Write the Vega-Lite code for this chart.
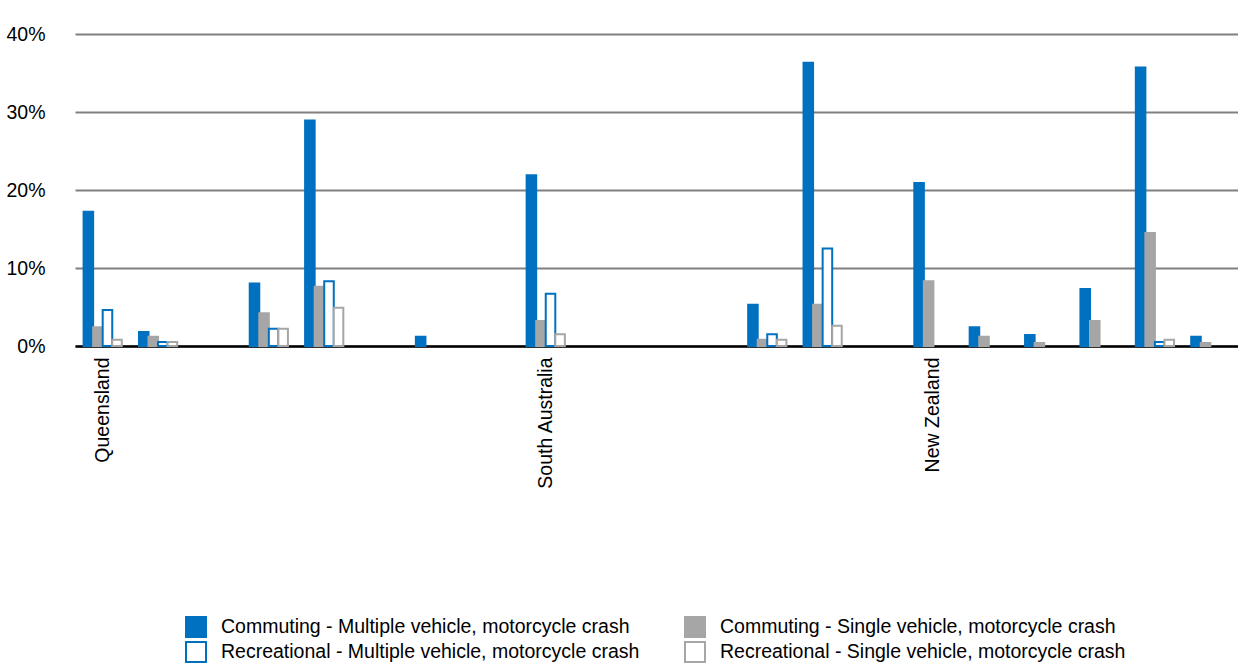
{
  "$schema": "https://vega.github.io/schema/vega-lite/v6.json",
  "autosize": "none",
  "width": 1163,
  "height": 312,
  "padding": {"left": 75, "top": 34, "right": 0, "bottom": 320},
  "background": "white",
  "config": {
    "font": "Liberation Sans",
    "view": {"stroke": null},
    "axis": {"labelFont": "Liberation Sans", "labelColor": "#000000", "labelFontSize": 19.5}
  },
  "data": {
    "values": [
      {"cat": "c01", "series": "Commuting - Multiple vehicle, motorcycle crash", "value": 0.172},
      {"cat": "c01", "series": "Commuting - Single vehicle, motorcycle crash", "value": 0.024},
      {"cat": "c01", "series": "Recreational  - Multiple vehicle, motorcycle crash", "value": 0.046},
      {"cat": "c01", "series": "Recreational - Single vehicle, motorcycle crash", "value": 0.008},
      {"cat": "c02", "series": "Commuting - Multiple vehicle, motorcycle crash", "value": 0.018},
      {"cat": "c02", "series": "Commuting - Single vehicle, motorcycle crash", "value": 0.012},
      {"cat": "c02", "series": "Recreational  - Multiple vehicle, motorcycle crash", "value": 0.005},
      {"cat": "c02", "series": "Recreational - Single vehicle, motorcycle crash", "value": 0.005},
      {"cat": "c04", "series": "Commuting - Multiple vehicle, motorcycle crash", "value": 0.080},
      {"cat": "c04", "series": "Commuting - Single vehicle, motorcycle crash", "value": 0.042},
      {"cat": "c04", "series": "Recreational  - Multiple vehicle, motorcycle crash", "value": 0.022},
      {"cat": "c04", "series": "Recreational - Single vehicle, motorcycle crash", "value": 0.022},
      {"cat": "c05", "series": "Commuting - Multiple vehicle, motorcycle crash", "value": 0.289},
      {"cat": "c05", "series": "Commuting - Single vehicle, motorcycle crash", "value": 0.076},
      {"cat": "c05", "series": "Recreational  - Multiple vehicle, motorcycle crash", "value": 0.083},
      {"cat": "c05", "series": "Recreational - Single vehicle, motorcycle crash", "value": 0.049},
      {"cat": "c07", "series": "Commuting - Multiple vehicle, motorcycle crash", "value": 0.012},
      {"cat": "c09", "series": "Commuting - Multiple vehicle, motorcycle crash", "value": 0.219},
      {"cat": "c09", "series": "Commuting - Single vehicle, motorcycle crash", "value": 0.032},
      {"cat": "c09", "series": "Recreational  - Multiple vehicle, motorcycle crash", "value": 0.067},
      {"cat": "c09", "series": "Recreational - Single vehicle, motorcycle crash", "value": 0.015},
      {"cat": "c13", "series": "Commuting - Multiple vehicle, motorcycle crash", "value": 0.053},
      {"cat": "c13", "series": "Commuting - Single vehicle, motorcycle crash", "value": 0.008},
      {"cat": "c13", "series": "Recreational  - Multiple vehicle, motorcycle crash", "value": 0.015},
      {"cat": "c13", "series": "Recreational - Single vehicle, motorcycle crash", "value": 0.008},
      {"cat": "c14", "series": "Commuting - Multiple vehicle, motorcycle crash", "value": 0.363},
      {"cat": "c14", "series": "Commuting - Single vehicle, motorcycle crash", "value": 0.053},
      {"cat": "c14", "series": "Recreational  - Multiple vehicle, motorcycle crash", "value": 0.125},
      {"cat": "c14", "series": "Recreational - Single vehicle, motorcycle crash", "value": 0.026},
      {"cat": "c16", "series": "Commuting - Multiple vehicle, motorcycle crash", "value": 0.209},
      {"cat": "c16", "series": "Commuting - Single vehicle, motorcycle crash", "value": 0.083},
      {"cat": "c17", "series": "Commuting - Multiple vehicle, motorcycle crash", "value": 0.024},
      {"cat": "c17", "series": "Commuting - Single vehicle, motorcycle crash", "value": 0.012},
      {"cat": "c18", "series": "Commuting - Multiple vehicle, motorcycle crash", "value": 0.014},
      {"cat": "c18", "series": "Commuting - Single vehicle, motorcycle crash", "value": 0.004},
      {"cat": "c19", "series": "Commuting - Multiple vehicle, motorcycle crash", "value": 0.073},
      {"cat": "c19", "series": "Commuting - Single vehicle, motorcycle crash", "value": 0.032},
      {"cat": "c20", "series": "Commuting - Multiple vehicle, motorcycle crash", "value": 0.357},
      {"cat": "c20", "series": "Commuting - Single vehicle, motorcycle crash", "value": 0.145},
      {"cat": "c20", "series": "Recreational  - Multiple vehicle, motorcycle crash", "value": 0.005},
      {"cat": "c20", "series": "Recreational - Single vehicle, motorcycle crash", "value": 0.008},
      {"cat": "c21", "series": "Commuting - Multiple vehicle, motorcycle crash", "value": 0.012},
      {"cat": "c21", "series": "Commuting - Single vehicle, motorcycle crash", "value": 0.004}
    ]
  },
  "mark": {"type": "bar", "strokeWidth": 2},
  "encoding": {
    "x": {
      "field": "cat",
      "type": "nominal",
      "scale": {
        "domain": ["c01","c02","c03","c04","c05","c06","c07","c08","c09","c10","c11","c12","c13","c14","c15","c16","c17","c18","c19","c20","c21"],
        "paddingInner": 0.31,
        "paddingOuter": 0.155
      },
      "axis": {
        "title": null,
        "labelAngle": -90,
        "labelPadding": 11,
        "ticks": false,
        "domainColor": "#000000",
        "domainWidth": 2.5,
        "labelOverlap": false,
        "labelBound": false,
        "labelExpr": "datum.value == 'c01' ? 'Queensland' : datum.value == 'c09' ? 'South Australia' : datum.value == 'c16' ? 'New Zealand' : ''"
      }
    },
    "xOffset": {
      "field": "series",
      "type": "nominal",
      "scale": {
        "domain": ["Commuting - Multiple vehicle, motorcycle crash", "Commuting - Single vehicle, motorcycle crash", "Recreational  - Multiple vehicle, motorcycle crash", "Recreational - Single vehicle, motorcycle crash"],
        "paddingInner": 0,
        "paddingOuter": 0
      }
    },
    "y": {
      "field": "value",
      "type": "quantitative",
      "scale": {"domain": [0, 0.4], "nice": false},
      "axis": {
        "title": null,
        "values": [0, 0.1, 0.2, 0.3, 0.4],
        "format": ".0%",
        "domain": false,
        "ticks": false,
        "labelPadding": 30,
        "gridColor": "#808080",
        "gridWidth": 2
      }
    },
    "fill": {
      "field": "series",
      "type": "nominal",
      "scale": {
        "domain": ["Commuting - Multiple vehicle, motorcycle crash", "Commuting - Single vehicle, motorcycle crash", "Recreational  - Multiple vehicle, motorcycle crash", "Recreational - Single vehicle, motorcycle crash"],
        "range": ["#0070C0", "#A6A6A6", "#FFFFFF", "#FFFFFF"]
      },
      "legend": {
        "title": null,
        "orient": "none",
        "legendX": 110,
        "legendY": 582,
        "columns": 2,
        "direction": "horizontal",
        "symbolType": "square",
        "symbolSize": 400,
        "symbolStrokeWidth": 2,
        "labelFontSize": 19.5,
        "labelFont": "Liberation Sans",
        "labelColor": "#000000",
        "labelOffset": 14,
        "labelLimit": 600,
        "columnPadding": 36,
        "rowPadding": -4
      }
    },
    "stroke": {
      "field": "series",
      "type": "nominal",
      "scale": {
        "domain": ["Commuting - Multiple vehicle, motorcycle crash", "Commuting - Single vehicle, motorcycle crash", "Recreational  - Multiple vehicle, motorcycle crash", "Recreational - Single vehicle, motorcycle crash"],
        "range": ["#0070C0", "#A6A6A6", "#0070C0", "#A6A6A6"]
      },
      "legend": null
    }
  }
}
